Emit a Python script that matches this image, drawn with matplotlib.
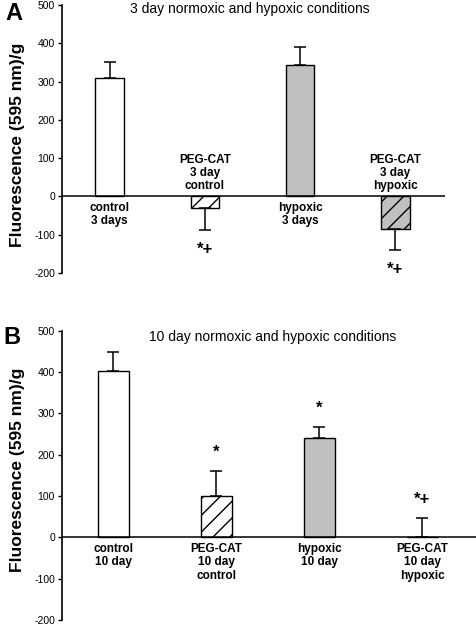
import numpy as np
import matplotlib
matplotlib.use('Agg')
import matplotlib.pyplot as plt

plt.rcParams['font.family'] = ['Liberation Sans', 'DejaVu Sans']
plt.rcParams['hatch.linewidth'] = 1.0

# ── Data ──────────────────────────────────────────────────────────────────────
labels_a = ['control\n3 days', 'PEG-CAT\n3 day\ncontrol', 'hypoxic\n3 days', 'PEG-CAT\n3 day\nhypoxic']
means_a  = [310, -31, 342, -85]
err_a    = [40, 57, 47, 56]
sig_a    = ['', '*+', '', '*+']

labels_b = ['control\n10 day', 'PEG-CAT\n10 day\ncontrol', 'hypoxic\n10 day', 'PEG-CAT\n10 day\nhypoxic']
means_b  = [402, 100, 241, 0]
err_b    = [46, 60, 27, 47]
sig_b    = ['', '*', '*', '*+']

colors  = ['white', 'white', '#c0c0c0', '#c0c0c0']
hatches = ['', '//', '', '//']
yticks  = [-200, -100, 0, 100, 200, 300, 400, 500]

W, H = 476, 624
fig = plt.figure(figsize=(W / 100, H / 100), dpi=100)


def panel(rect, labels, means, errs, sigs, title, letter, label_below, sig_gap):
    ax = fig.add_axes(rect)
    x = np.arange(1, len(means) + 1)
    ax.bar(x, means, width=0.30, color=colors, edgecolor='black', linewidth=1.0,
           hatch=hatches, zorder=2)
    lower = [e if m < 0 else 0 for m, e in zip(means, errs)]
    upper = [0 if m < 0 else e for m, e in zip(means, errs)]
    ax.errorbar(x, means, yerr=[lower, upper], fmt='none', ecolor='black',
                elinewidth=1.1, capsize=4, capthick=1.1, zorder=3)
    ax.axhline(0, color='black', linewidth=1.1, zorder=4)

    ax.set_xlim(0.5, 4.52)
    ax.set_ylim(-200, 500)
    ax.set_yticks(yticks)
    ax.set_yticklabels([str(t) for t in yticks], fontsize=7.5)
    ax.tick_params(axis='y', direction='out', length=3, width=1.0, pad=2)
    ax.set_xticks([])
    for s in ['top', 'right', 'bottom']:
        ax.spines[s].set_visible(False)
    ax.spines['left'].set_linewidth(1.2)
    ax.patch.set_alpha(0)

    for xi, m, e, lab, sg, below in zip(x, means, errs, labels, sigs, label_below):
        if below:
            ax.annotate(lab, (xi, 0), xytext=(0, -4), textcoords='offset points',
                        ha='center', va='top', fontsize=8.5, fontweight='bold',
                        linespacing=1.15)
        else:
            ax.annotate(lab, (xi, 0), xytext=(0, 3), textcoords='offset points',
                        ha='center', va='bottom', fontsize=8.5, fontweight='bold',
                        linespacing=1.15)
        if sg:
            tip = m - e if m < 0 else m + e
            off = -sig_gap if m < 0 else 8
            ax.annotate(sg, (xi, tip), xytext=(0, off), textcoords='offset points',
                        ha='center', va='center' if m < 0 else 'bottom',
                        fontsize=12, fontweight='bold')
    return ax


ax_a = panel([62 / W, 1 - 273 / H, (445 - 62) / W, (273 - 5) / H],
             labels_a, means_a, err_a, sig_a, '', 'A',
             [True, False, True, False], 14)
ax_b = panel([62 / W, 1 - 620 / H, (476 - 62) / W, (620 - 330.7) / H],
             labels_b, means_b, err_b, sig_b, '', 'B',
             [True, True, True, True], 14)

fig.text(250 / W, 1 - 9 / H, '3 day normoxic and hypoxic conditions',
         ha='center', va='center', fontsize=10)
fig.text(273 / W, 1 - 337 / H, '10 day normoxic and hypoxic conditions',
         ha='center', va='center', fontsize=10)

fig.text(5 / W, 1 - 14 / H, 'A', ha='left', va='center', fontsize=17, fontweight='bold')
fig.text(3 / W, 1 - 338 / H, 'B', ha='left', va='center', fontsize=17, fontweight='bold')

fig.text(18 / W, 1 - 145 / H, 'Fluorescence (595 nm)/g', rotation=90,
         ha='center', va='center', fontsize=12.5, fontweight='bold')
fig.text(18 / W, 1 - 470 / H, 'Fluorescence (595 nm)/g', rotation=90,
         ha='center', va='center', fontsize=12.5, fontweight='bold')

fig.savefig('out.png', dpi=100, facecolor='white')
